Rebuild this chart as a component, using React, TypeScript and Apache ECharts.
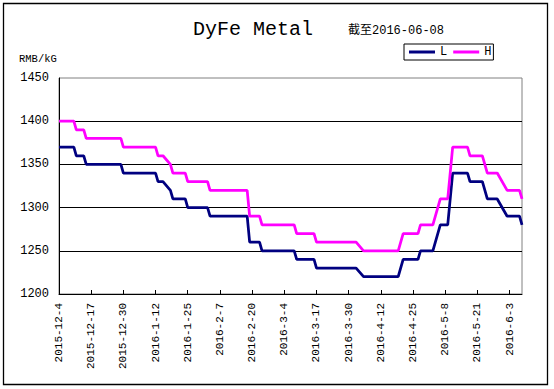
import React, { useEffect, useRef } from "react";
import * as echarts from "echarts";

// ---- Data ----
const startDate = "2015-12-04";
const endDate = "2016-06-08";
const tickStepDays = 13;

// Dates at which the price lines change (vertices of the lines)
const dates = [
  "2015-12-04", "2015-12-10", "2015-12-11", "2015-12-14", "2015-12-15",
  "2015-12-29", "2015-12-30", "2016-01-12", "2016-01-13", "2016-01-15",
  "2016-01-18", "2016-01-19", "2016-01-24", "2016-01-25", "2016-02-02",
  "2016-02-03", "2016-02-18", "2016-02-19", "2016-02-23", "2016-02-24",
  "2016-03-08", "2016-03-09", "2016-03-16", "2016-03-17", "2016-04-02",
  "2016-04-05", "2016-04-19", "2016-04-21", "2016-04-27", "2016-04-28",
  "2016-05-03", "2016-05-06", "2016-05-09", "2016-05-11", "2016-05-17",
  "2016-05-18", "2016-05-23", "2016-05-25", "2016-05-29", "2016-06-02",
  "2016-06-07", "2016-06-08",
];

const lowValues = [
  1370, 1370, 1360, 1360, 1350,
  1350, 1340, 1340, 1330, 1330,
  1320, 1310, 1310, 1300, 1300,
  1290, 1290, 1260, 1260, 1250,
  1250, 1240, 1240, 1230, 1230,
  1220, 1220, 1240, 1240, 1250,
  1250, 1280, 1280, 1340, 1340,
  1330, 1330, 1310, 1310, 1290,
  1290, 1280,
];

const highValues = [
  1400, 1400, 1390, 1390, 1380,
  1380, 1370, 1370, 1360, 1360,
  1350, 1340, 1340, 1330, 1330,
  1320, 1320, 1290, 1290, 1280,
  1280, 1270, 1270, 1260, 1260,
  1250, 1250, 1270, 1270, 1280,
  1280, 1310, 1310, 1370, 1370,
  1360, 1360, 1340, 1340, 1320,
  1320, 1310,
];

const seriesNames = ["L", "H"];
const seriesColors = ["#000080", "#FF00FF"];

const yMin = 1200;
const yMax = 1450;
const yStep = 50;

const titleText = "DyFe Metal";
const subText = "截至2016-06-08";
const unitText = "RMB/kG";

// ---- helpers ----
const DAY = 86400000;
function toUTC(s: string) {
  const [y, m, d] = s.split("-").map(Number);
  return Date.UTC(y, m - 1, d);
}
const startUTC = toUTC(startDate);
function dayIndex(s: string) {
  return Math.round((toUTC(s) - startUTC) / DAY);
}
function dayLabel(v: number) {
  const t = new Date(startUTC + Math.round(v) * DAY);
  return `${t.getUTCFullYear()}-${t.getUTCMonth() + 1}-${t.getUTCDate()}`;
}

const MONO = '"Liberation Mono", "Noto Sans CJK SC", monospace';

export default function App() {
  const ref = useRef<HTMLDivElement>(null);

  useEffect(() => {
    if (!ref.current) return;
    const chart = echarts.init(ref.current, undefined, { renderer: "svg" });
    const xs = dates.map(dayIndex);
    const option: any = {
      animation: false,
      backgroundColor: "#ffffff",
      textStyle: { fontFamily: MONO, color: "#000" },
      grid: {
        left: 59,
        top: 78,
        width: 463,
        height: 216,
        show: true,
        borderColor: "#808080",
        borderWidth: 1,
        containLabel: false,
      },
      legend: {
        data: seriesNames,
        left: 404,
        top: 44,
        icon: "rect",
        itemWidth: 26,
        itemHeight: 3,
        itemGap: 6,
        borderColor: "#000",
        borderWidth: 1,
        padding: [2, 2, 2, 5],
        textStyle: { fontFamily: MONO, fontSize: 12, color: "#000", lineHeight: 12 },
      },
      xAxis: {
        type: "value",
        min: 0,
        max: dayIndex(endDate),
        interval: tickStepDays,
        axisLine: { show: true, lineStyle: { color: "#000", width: 1 } },
        axisTick: { show: true, inside: true, length: 4, lineStyle: { color: "#000" } },
        axisLabel: {
          rotate: 90,
          margin: 9,
          fontSize: 11,
          fontFamily: MONO,
          color: "#000",
          showMaxLabel: false,
          formatter: (v: number) => dayLabel(v),
        },
        splitLine: { show: false },
      },
      yAxis: {
        type: "value",
        min: yMin,
        max: yMax,
        interval: yStep,
        axisLine: { show: true, lineStyle: { color: "#000", width: 1 } },
        axisTick: { show: false },
        axisLabel: {
          margin: 10,
          fontSize: 12,
          fontFamily: MONO,
          color: "#000",
          formatter: (v: number) => String(v),
        },
        splitLine: {
          show: true,
          showMinLine: false,
          showMaxLine: false,
          lineStyle: { color: "#000", width: 1 },
        },
      },
      series: [
        {
          name: seriesNames[0],
          type: "line",
          data: xs.map((x, i) => [x, lowValues[i]]),
          showSymbol: false,
          symbol: "none",
          lineStyle: { color: seriesColors[0], width: 2.75 },
          itemStyle: { color: seriesColors[0] },
        },
        {
          name: seriesNames[1],
          type: "line",
          data: xs.map((x, i) => [x, highValues[i]]),
          showSymbol: false,
          symbol: "none",
          lineStyle: { color: seriesColors[1], width: 2.75 },
          itemStyle: { color: seriesColors[1] },
        },
      ],
      graphic: [
        {
          type: "rect",
          shape: { x: 3.5, y: 3.5, width: 544, height: 381 },
          style: { fill: "none", stroke: "#000", lineWidth: 1.3 },
          silent: true,
        },
        {
          type: "text",
          x: 193,
          y: 29,
          style: {
            text: titleText,
            font: `20px ${MONO}`,
            fill: "#000",
            textAlign: "left",
            textVerticalAlign: "middle",
          },
        },
        {
          type: "text",
          x: 348,
          y: 31,
          style: {
            text: subText,
            font: `12px ${MONO}`,
            fill: "#000",
            textAlign: "left",
            textVerticalAlign: "middle",
          },
        },
        {
          type: "text",
          x: 19,
          y: 59,
          style: {
            text: unitText,
            font: `10.5px ${MONO}`,
            fill: "#000",
            textAlign: "left",
            textVerticalAlign: "middle",
          },
        },
      ],
    };
    chart.setOption(option);
    return () => chart.dispose();
  }, []);

  return (
    <div
      ref={ref}
      style={{ position: "absolute", left: 0, top: 0, width: 554, height: 389, background: "#fff" }}
    />
  );
}
